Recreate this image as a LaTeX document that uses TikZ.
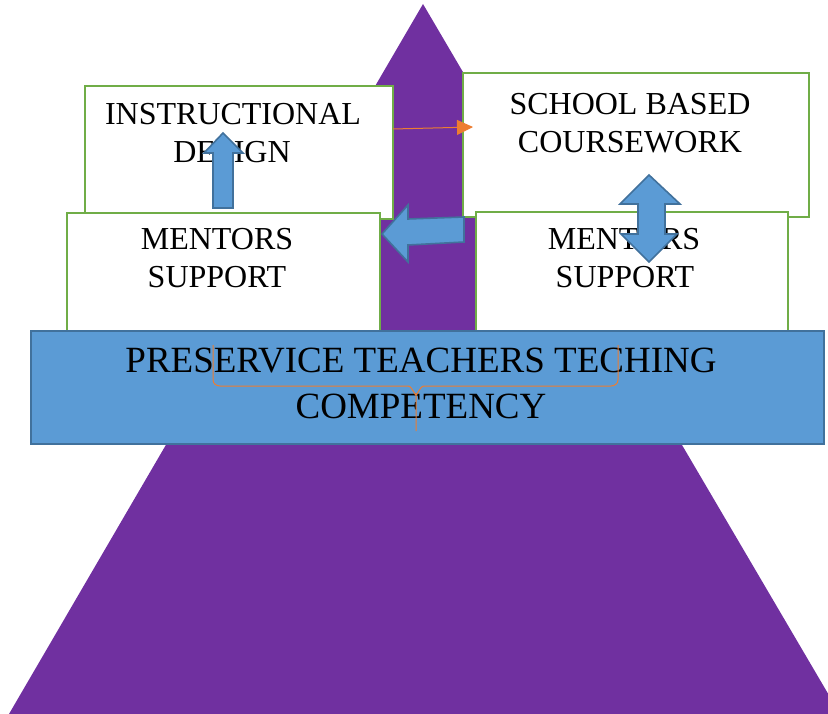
\documentclass[tikz,border=0pt]{standalone}
\usepackage{fontspec}
\setmainfont{Liberation Serif}
\definecolor{tripurple}{HTML}{7030A0}
\definecolor{boxgreen}{HTML}{70AD47}
\definecolor{arrblue}{HTML}{5B9BD5}
\definecolor{arrborder}{HTML}{41719C}
\definecolor{braceorange}{HTML}{ED7D31}
\usetikzlibrary{arrows.meta}
\tikzset{
  greenbox/.style={draw=boxgreen, line width=2.2pt, fill=white},
  bluebox/.style={draw=arrborder, line width=2.2pt, fill=arrblue},
  blockarrow/.style={draw=arrborder, line width=1.6pt, fill=arrblue, line join=miter},
  smalltxt/.style={anchor=base, inner sep=0pt, font=\fontsize{32}{38}\selectfont},
  bigtxt/.style={anchor=base, inner sep=0pt, font=\fontsize{37}{46}\selectfont},
  thinarrow/.style={draw=braceorange, line width=1pt, -{Triangle[length=16pt,width=15pt]}},
}
\begin{document}
\begin{tikzpicture}[x=1pt,y=-1pt]
\useasboundingbox (0,0) rectangle (828,714);
\begin{scope}
\clip (0,0) rectangle (828,714);
\fill[tripurple] (9,714) -- (423,4) -- (840,714) -- cycle;
\end{scope}
% boxes
\draw[greenbox] (85,86) rectangle (393,219);
\coordinate (idE) at (393,129);
\draw[greenbox] (463,73) rectangle (809,217);
\coordinate (sbW) at (473,127);
\draw[greenbox] (67,213) rectangle (380,331);
\draw[greenbox] (476,212) rectangle (788,331);
% texts in boxes
\node[smalltxt] (id1) at (233,125) {INSTRUCTIONAL};
\node[smalltxt] (id2) at (232,163) {DESIGN};
\node[smalltxt] (sb1) at (630,115) {SCHOOL BASED};
\node[smalltxt] (sb2) at (630,153) {COURSEWORK};
\node[smalltxt] (ml1) at (217,250) {MENTORS};
\node[smalltxt] (ml2) at (217,288) {SUPPORT};
\node[smalltxt] (mr1) at (624,250) {MENTORS};
\node[smalltxt] (mr2) at (625,288) {SUPPORT};
% base box
\draw[bluebox] (31,331) rectangle (824,444);
\node[bigtxt] (pt1) at (421,372) {PRESERVICE TEACHERS TECHING};
\node[bigtxt] (pt2) at (421,418) {COMPETENCY};
% orange brace
\draw[braceorange, line width=1pt]
  (213,345) -- (213,380) to[out=-90,in=180] (220,386) -- (408,386)
  to[out=0,in=-90] (416,394) -- (416,431);
\draw[braceorange, line width=1pt]
  (416,394) to[out=-90,in=180] (424,386) -- (611,386)
  to[out=0,in=-90] (618,380) -- (618,345);
% orange arrow
\draw[thinarrow] (idE) -- (sbW);
% block arrows
\draw[blockarrow] (213,208) -- (213,153) -- (204,153) -- (223,133) -- (243,153) -- (233,153) -- (233,208) -- cycle;
\draw[blockarrow] (382,234) -- (408,205) -- (408,219) -- (464,217) -- (464,242) -- (408,245) -- (408,262) -- cycle;
\draw[blockarrow] (649,175) -- (680,204) -- (665,204) -- (665,234) -- (677,234) -- (649,262) -- (621,234) -- (638,234) -- (638,204) -- (620,204) -- cycle;
\end{tikzpicture}
\end{document}
